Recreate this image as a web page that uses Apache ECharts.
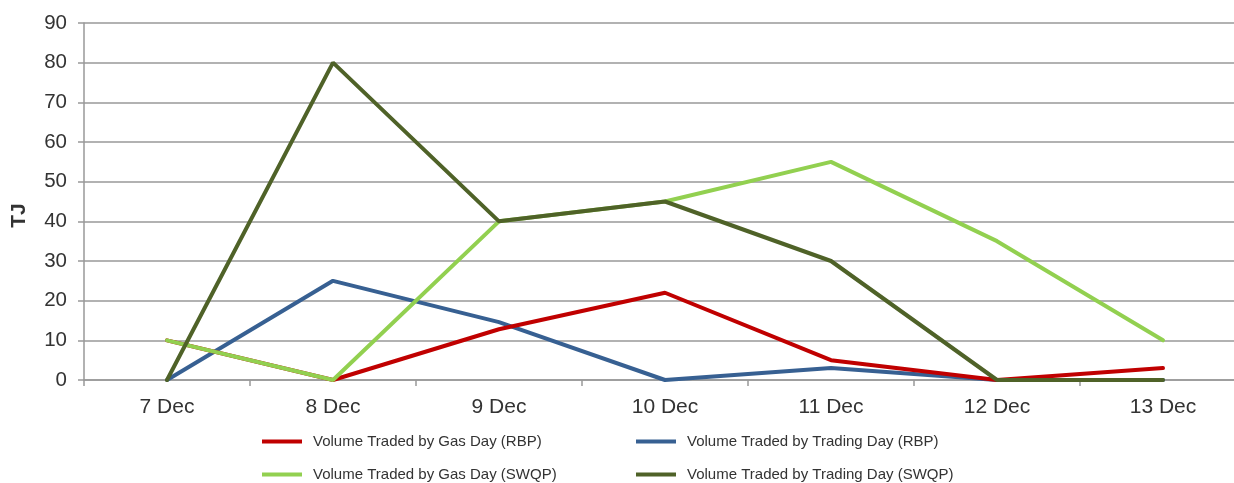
<!DOCTYPE html>
<html>
<head>
<meta charset="utf-8">
<script src="https://cdn.jsdelivr.net/npm/echarts@6/dist/echarts.min.js"></script>
<style>
html,body{margin:0;padding:0;background:#fff;overflow:hidden;}
#c{width:1250px;height:483px;}
</style>
</head>
<body>
<div id="c"></div>
<script>
const categories = ['7 Dec','8 Dec','9 Dec','10 Dec','11 Dec','12 Dec','13 Dec'];
const gasDayRBP = [10, 0, 12.8, 22, 5, 0, 3];
const tradingDayRBP = [0, 25, 14.6, 0, 3, 0, 0];
const gasDaySWQP = [10, 0, 40, 45, 55, 35, 10];
const tradingDaySWQP = [0, 80, 40, 45, 30, 0, 0];
const seriesNames = [
  'Volume Traded by Gas Day (RBP)',
  'Volume Traded by Trading Day (RBP)',
  'Volume Traded by Gas Day (SWQP)',
  'Volume Traded by Trading Day (SWQP)'
];
const colors = ['#C00000', '#376092', '#92D050', '#4F6228'];

const chart = echarts.init(document.getElementById('c'));
const legendPos = [[262, 434], [636, 434], [262, 467], [636, 467]];
const legends = seriesNames.map((n, i) => ({
  data: [n],
  left: legendPos[i][0],
  top: legendPos[i][1],
  padding: 0,
  itemWidth: 40,
  itemHeight: 4,
  itemGap: 0,
  icon: 'rect',
  textStyle: {fontFamily: 'Liberation Sans, Arial', fontSize: 15, color: '#333', padding: [0,0,0,6]}
}));
const dataSets = [gasDayRBP, tradingDayRBP, gasDaySWQP, tradingDaySWQP];
const zs = [3, 2, 4, 5];
chart.setOption({
  animation: false,
  color: colors,
  legend: legends,
  grid: {left: 84, top: 23, width: 1162, height: 357, containLabel: false},
  xAxis: {
    type: 'category',
    data: categories,
    boundaryGap: true,
    axisLine: {lineStyle: {color: '#999', width: 1.5}},
    axisTick: {show: true, length: 6, lineStyle: {color: '#999', width: 1.5}},
    axisLabel: {fontFamily: 'Liberation Sans, Arial', fontSize: 21, color: '#333', margin: 17}
  },
  yAxis: {
    type: 'value',
    min: 0, max: 90, interval: 10,
    name: 'TJ',
    nameLocation: 'middle',
    nameGap: 54,
    nameTextStyle: {fontFamily: 'Liberation Sans, Arial', fontSize: 21, fontWeight: 'bold', color: '#333', padding: [0, 28, 0, 0]},
    axisLine: {show: true, lineStyle: {color: '#999', width: 1.5}},
    axisTick: {show: true, length: 6, lineStyle: {color: '#999', width: 1.5}},
    axisLabel: {fontFamily: 'Liberation Sans, Arial', fontSize: 20.5, color: '#333', margin: 17},
    splitLine: {lineStyle: {color: '#999', width: 1.5}}
  },
  series: dataSets.map((d, i) => ({
    name: seriesNames[i],
    type: 'line',
    data: d,
    z: zs[i],
    symbol: 'none',
    lineStyle: {width: 4, color: colors[i], cap: 'round'},
    itemStyle: {color: colors[i]}
  }))
});
</script>
</body>
</html>
